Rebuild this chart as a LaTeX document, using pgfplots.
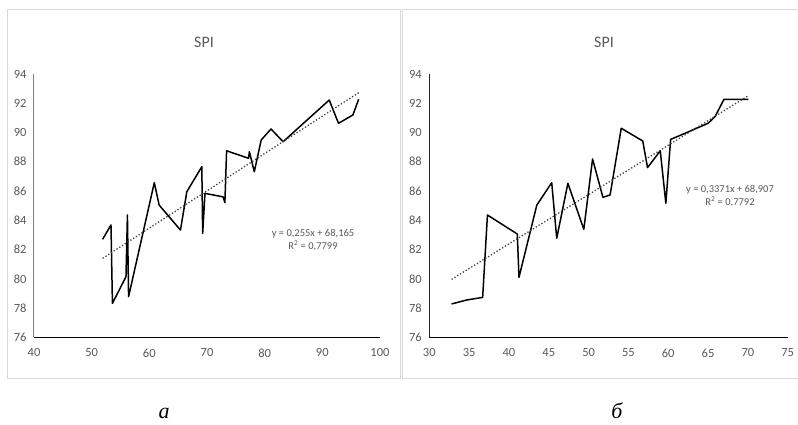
\documentclass[border=0pt]{standalone}
\usepackage{pgfplots}
\pgfplotsset{compat=1.18}
\usepackage{fontspec}
\setmainfont{Carlito}
\newfontfamily\capfont{Liberation Serif}
\definecolor{lblgray}{HTML}{595959}
\definecolor{boxgray}{HTML}{D9D9D9}

\pgfplotsset{
  spi/.style={
    scale only axis,
    height=263.3pt,
    ymin=76, ymax=94,
    ytick={76,78,...,94},
    axis x line*=bottom,
    axis y line*=left,
    x axis line style={black, line width=1pt, -},
    y axis line style={gray, line width=1pt, -},
    major tick length=0pt,
    tick label style={font=\fontsize{12.5}{12.5}\selectfont, text=lblgray},
    /pgf/number format/assume math mode=true,
    yticklabel style={xshift=-4pt},
    xticklabel style={yshift=-8pt},
    clip=false,
  },
  dataline/.style={black, line width=1.5pt, line join=round},
  trendline/.style={black!75, line width=1.3pt, dotted},
}

\begin{document}
\begin{tikzpicture}[x=1pt, y=1pt]
\path[use as bounding box] (0,0) rectangle (798,424);

% panel frames
\draw[boxgray, line width=1pt] (7,414) rectangle (400,46);
\draw[boxgray, line width=1pt] (402,414) rectangle (806,46);

% panel a
\begin{axis}[spi, at={(34pt,86.7pt)}, anchor=south west,
  width=346pt, xmin=40, xmax=100, xtick={40,50,...,100}]
\addplot[dataline] coordinates {
(51.9,82.7) (53.35,83.68) (53.6,78.32) (55.95,80.14) (56.2,84.36)
(56.4,78.78) (60.86,86.57) (61.7,85.04) (65.4,83.33) (66.5,85.95)
(69.1,87.66) (69.25,83.1) (69.65,85.84) (72.8,85.6) (73.1,85.2)
(73.4,88.75) (77.2,88.24) (77.35,88.69) (78.2,87.32) (79.4,89.49)
(81.1,90.24) (83.2,89.37) (87.2,90.8) (91.2,92.22) (92.8,90.63)
(95.3,91.2) (96.3,92.27)};
\addplot[trendline] coordinates {(51.9,81.40) (96.3,92.72)};
\end{axis}

% panel b
\begin{axis}[spi, at={(429.3pt,86.7pt)}, anchor=south west,
  width=358.4pt, xmin=30, xmax=75, xtick={30,35,...,75},
  y axis line style={black!85, line width=1pt, -}]
\addplot[dataline] coordinates {
(32.8,78.28) (34.7,78.55) (36.7,78.73) (37.3,84.36) (41.05,83.06)
(41.26,80.1) (43.5,85.04) (45.37,86.57) (46.0,82.77) (47.4,86.53)
(49.4,83.38) (50.5,88.19) (51.8,85.57) (52.7,85.73) (54.1,90.29)
(56.8,89.42) (57.4,87.6) (59.0,88.75) (59.7,85.16) (60.3,89.53)
(62.3,89.99) (65.0,90.63) (65.87,91.08) (67.0,92.27) (70.06,92.27)};
\addplot[trendline] coordinates {(32.8,79.96) (70.06,92.52)};
\end{axis}

% titles
\node[text=lblgray, font=\fontsize{16}{16}\selectfont] at (204,382) {SPI};
\node[text=lblgray, font=\fontsize{16}{16}\selectfont] at (604,382) {SPI};

% trend equations
\node[text=lblgray, font=\fontsize{10.5}{12.5}\selectfont, align=center] at (313,184)
  {y = 0,255x + 68,165\\R\textsuperscript{2} = 0,7799};
\node[text=lblgray, font=\fontsize{10.5}{12.5}\selectfont, align=center] at (730,228)
  {y = 0,3371x + 68,907\\R\textsuperscript{2} = 0,7792};

% panel captions
\node[font=\capfont\itshape\fontsize{22}{22}\selectfont, anchor=base] at (164,6) {а};
\node[font=\capfont\itshape\fontsize{22}{22}\selectfont, anchor=base] at (617,6) {б};
\end{tikzpicture}
\end{document}
